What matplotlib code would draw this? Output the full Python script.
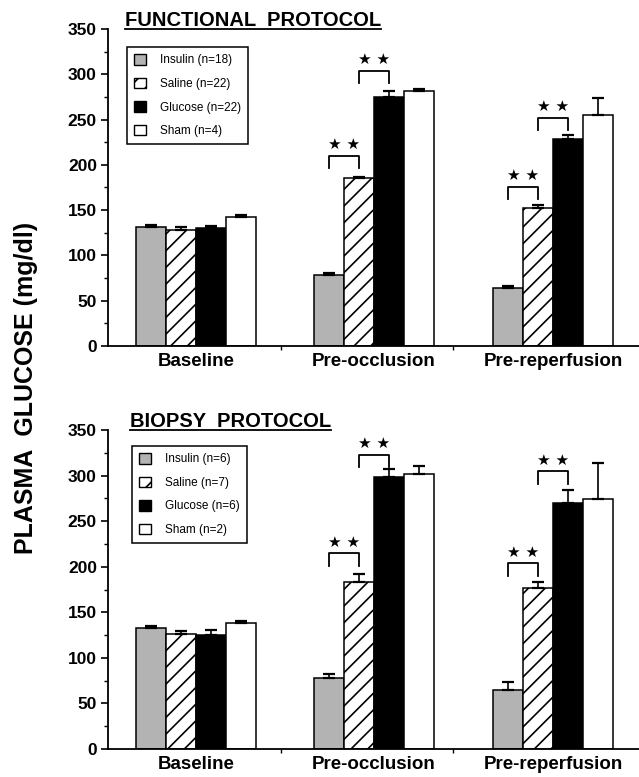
import numpy as np
import matplotlib
matplotlib.use('Agg')
from matplotlib import pyplot as plt
from matplotlib.patches import Patch
from matplotlib.lines import Line2D
from matplotlib.ticker import MultipleLocator

plt.rcParams['font.family'] = ['Liberation Sans', 'DejaVu Sans']
plt.rcParams['hatch.linewidth'] = 1.2

groups = ['Baseline', 'Pre-occlusion', 'Pre-reperfusion']

# functional protocol
func_insulin = [131, 78, 64]
func_insulin_err = [3, 3, 2.5]
func_saline = [128, 185, 152]
func_saline_err = [3, 2, 4]
func_glucose = [130, 275, 228]
func_glucose_err = [2, 6, 5]
func_sham = [142, 282, 255]
func_sham_err = [3, 2, 19]
func_labels = ['Insulin (n=18)', 'Saline (n=22)', 'Glucose (n=22)', 'Sham (n=4)']
# (group, left bar, bracket height)
func_brackets = [(1, 0, 210), (1, 1, 304), (2, 0, 176), (2, 1, 252)]

# biopsy protocol
bio_insulin = [133, 78, 65]
bio_insulin_err = [2, 4.5, 9]
bio_saline = [126, 183, 177]
bio_saline_err = [4, 9, 6]
bio_glucose = [125, 298, 270]
bio_glucose_err = [6, 9, 14]
bio_sham = [138, 302, 274]
bio_sham_err = [2, 8, 40]
bio_labels = ['Insulin (n=6)', 'Saline (n=7)', 'Glucose (n=6)', 'Sham (n=2)']
bio_brackets = [(1, 0, 215), (1, 1, 323), (2, 0, 204), (2, 1, 305)]

W, H = 639, 777
fig = plt.figure(figsize=(W / 100, H / 100), dpi=100)

styles = [dict(facecolor='#b3b3b3', hatch=None),
          dict(facecolor='white', hatch='//'),
          dict(facecolor='black', hatch=None),
          dict(facecolor='white', hatch=None)]

centers = np.array([0.51, 1.54, 2.58])
width = 0.174
offsets = (np.arange(4) - 1.5) * width


def panel(rect, series, errs, labels, brackets, title, title_px, leg_anchor):
    ax = fig.add_axes(rect)
    for k in range(4):
        ax.bar(centers + offsets[k], series[k], width, edgecolor='black',
               linewidth=1.1, zorder=2, **styles[k])
        ax.errorbar(centers + offsets[k], series[k],
                    yerr=[np.zeros(3), errs[k]], fmt='none', ecolor='black',
                    elinewidth=1.2, capsize=4.5, capthick=1.6, zorder=3)
    for g, b, top in brackets:
        x0 = centers[g] + offsets[b]
        x1 = centers[g] + offsets[b + 1]
        ax.plot([x0, x0, x1, x1], [top - 14, top, top, top - 14],
                color='black', lw=1.3, zorder=3)
        ax.text((x0 + x1) / 2, top + 12, '★ ★', ha='center', va='center',
                fontsize=11, family=['DejaVu Sans'])

    ax.set_xlim(0, (W - 108) / 172.5)
    ax.set_ylim(0, 350)
    ax.yaxis.set_major_locator(MultipleLocator(50))
    ax.yaxis.set_minor_locator(MultipleLocator(25))
    ax.set_xticks([1, 2])
    ax.set_xticklabels([])
    ax.tick_params(axis='y', which='major', length=5, width=1.2, pad=3,
                   labelsize=12.5)
    ax.tick_params(axis='y', which='minor', length=3, width=1.0)
    ax.tick_params(axis='x', length=3, width=1.0)
    for lab in ax.get_yticklabels():
        lab.set_fontweight('bold')
    for s in ['top', 'right']:
        ax.spines[s].set_visible(False)
    for s in ['left', 'bottom']:
        ax.spines[s].set_linewidth(1.3)

    for i, g in enumerate(groups):
        ax.text(centers[i], -17, g, ha='center', va='center', fontsize=13.5,
                fontweight='bold', clip_on=False)

    handles = [Patch(edgecolor='black', linewidth=1.0, **styles[k]) for k in range(4)]
    leg = ax.legend(handles, labels, loc='upper left', bbox_to_anchor=leg_anchor,
                    fontsize=8.5, frameon=True, fancybox=False, framealpha=1,
                    edgecolor='black', handlelength=1.0, handleheight=1.0,
                    handletextpad=1.2, labelspacing=0.95, borderpad=0.6,
                    borderaxespad=0)
    leg.get_frame().set_linewidth(1.1)

    t = fig.text(title_px[0] / W, 1 - title_px[1] / H, title, ha='left',
                 va='baseline', fontsize=14.5, fontweight='bold')
    return ax, t


ax1, t1 = panel([108 / W, 1 - 346 / H, 1 - 108 / W, 317 / H],
                [func_insulin, func_saline, func_glucose, func_sham],
                [func_insulin_err, func_saline_err, func_glucose_err, func_sham_err],
                func_labels, func_brackets, 'FUNCTIONAL  PROTOCOL', (125, 26),
                (0.036, 0.943))
ax2, t2 = panel([108 / W, 1 - 749 / H, 1 - 108 / W, 319 / H],
                [bio_insulin, bio_saline, bio_glucose, bio_sham],
                [bio_insulin_err, bio_saline_err, bio_glucose_err, bio_sham_err],
                bio_labels, bio_brackets, 'BIOPSY  PROTOCOL', (130, 427),
                (0.045, 0.95))

fig.text(26 / W, 1 - 388 / H, 'PLASMA  GLUCOSE (mg/dl)', rotation=90,
         ha='center', va='center', fontsize=18, fontweight='bold')

# underline the panel titles
fig.canvas.draw()
inv = fig.transFigure.inverted()
for t in [t1, t2]:
    bb = t.get_window_extent()
    (x0, y0), (x1, _) = inv.transform([[bb.x0, bb.y0], [bb.x1, bb.y1]])
    yb = t.get_position()[1] - 2.5 / H
    fig.add_artist(Line2D([x0, x1], [yb, yb], color='black', lw=1.3,
                          transform=fig.transFigure))

fig.savefig('out.png', dpi=100)
